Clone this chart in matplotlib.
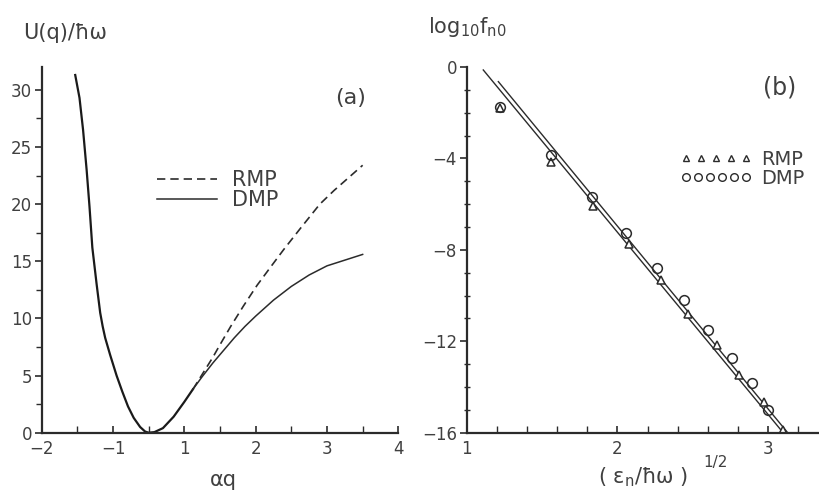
import matplotlib
matplotlib.use("Agg")
import matplotlib.pyplot as plt
from matplotlib.lines import Line2D
from matplotlib.legend_handler import HandlerLine2D
import numpy as np

plt.rcParams['font.family'] = ['DejaVu Sans']
plt.rcParams['mathtext.default'] = 'regular'

INK = '#2b2b2b'
TXT = '#404040'

# (a) potential curves
left_q = [-1.03, -0.97, -0.92, -0.87, -0.83, -0.79, -0.73, -0.68, -0.645, -0.61, -0.54,
          -0.45, -0.37, -0.29, -0.21, -0.12, -0.05, 0.0, 0.08, 0.2, 0.35, 0.5, 0.62]
left_U = [31.3, 29.3, 26.5, 23.0, 19.8, 16.2, 13.0, 10.5, 9.3, 8.3, 6.8,
          5.0, 3.6, 2.3, 1.3, 0.5, 0.1, 0.0, 0.05, 0.4, 1.4, 2.7, 3.8]
dmp_q = [0.75, 0.9, 1.05, 1.2, 1.35, 1.5, 1.75, 2.0, 2.25, 2.5, 2.75, 3.0]
dmp_U = [4.9, 6.1, 7.2, 8.3, 9.3, 10.2, 11.6, 12.8, 13.8, 14.6, 15.1, 15.6]
rmp_q = [0.75, 0.9, 1.0, 1.15, 1.33, 1.52, 1.71, 1.89, 2.13, 2.4, 2.6, 2.8, 3.0]
rmp_U = [5.1, 6.6, 7.7, 9.3, 11.1, 12.9, 14.5, 16.0, 17.9, 20.0, 21.2, 22.3, 23.4]

# tick labels of panel (a) as printed
a_tick_pos = [-1.5, -0.5, 0.5, 1.5, 2.5, 3.5]
a_tick_lab = ['\u22122', '\u22121', '1', '2', '3', '4']

# (b) log10 f_n0 vs sqrt(eps_n / hbar w)
dmp_x = [1.22, 1.56, 1.83, 2.06, 2.26, 2.44, 2.60, 2.76, 2.89, 3.00]
dmp_y = [-1.74, -3.85, -5.67, -7.28, -8.81, -10.19, -11.5, -12.74, -13.84, -15.0]
rmp_x = [1.22, 1.56, 1.84, 2.08, 2.29, 2.47, 2.66, 2.81, 2.97, 3.10]
rmp_y = [-1.80, -4.17, -6.07, -7.76, -9.32, -10.82, -12.16, -13.47, -14.65, -15.9]
fitA_x = [1.11, 3.10]
fitA_y = [-0.13, -16.0]
fitB_x = [1.21, 3.13]
fitB_y = [-0.64, -16.0]

W, H = 819, 495
fig = plt.figure(figsize=(W / 100, H / 100), dpi=100)

def box(x0, y0, x1, y1):
    return [x0 / W, 1 - y1 / H, (x1 - x0) / W, (y1 - y0) / H]

def style(ax):
    for s in ['top', 'right']:
        ax.spines[s].set_visible(False)
    for s in ['left', 'bottom']:
        ax.spines[s].set_color(INK)
        ax.spines[s].set_linewidth(1.6)
    ax.tick_params(colors=INK, labelcolor=TXT, labelsize=12, width=1.2)
    ax.tick_params(which='minor', colors=INK, width=1.0)

# ---- panel (a)
ax1 = fig.add_axes(box(41.7, 67, 398.3, 432.7))
style(ax1)
ax1.plot(left_q, left_U, color='#1a1a1a', lw=1.6)
ax1.plot([left_q[-1]] + dmp_q, [left_U[-1]] + dmp_U, color=INK, lw=1.1)
ax1.plot([left_q[-1]] + rmp_q, [left_U[-1]] + rmp_U, color=INK, lw=1.2, ls=(0, (5, 3)))
ax1.set_xlim(-1.5, 3.5)
ax1.set_ylim(0, 32)
ax1.set_xticks(a_tick_pos)
ax1.set_xticklabels(a_tick_lab)
ax1.set_xticks([-1, 0, 1, 2, 3], minor=True)
ax1.set_yticks([0, 5, 10, 15, 20, 25, 30])
ax1.set_yticks(np.arange(2.5, 32, 5), minor=True)
ax1.tick_params(axis='x', which='both', direction='in', length=5, pad=5)
ax1.tick_params(axis='y', which='major', direction='out', length=5, pad=2)
ax1.tick_params(axis='y', which='minor', direction='out', length=4)

hl = [Line2D([], [], color=INK, lw=1.2, ls=(0, (5, 3))),
      Line2D([], [], color=INK, lw=1.1)]
ax1.legend(hl, ['RMP', 'DMP'], loc='center left', frameon=False,
           bbox_to_anchor=(157 / W, 1 - 190 / H), bbox_transform=fig.transFigure,
           borderpad=0, borderaxespad=0, handlelength=2.9, handletextpad=0.7,
           labelspacing=0.0, prop={'size': 15}, labelcolor=TXT)
fig.text(351 / W, 1 - 98 / H, '(a)', fontsize=16, color=TXT, ha='center', va='center')
fig.text(23 / W, 1 - 33 / H, 'U(q)/\u0127\u03c9', fontsize=15, color=TXT,
         ha='left', va='center')
fig.text(223 / W, 1 - 480 / H, '\u03b1q', fontsize=15, color=TXT,
         ha='center', va='center')

# ---- panel (b)
ax2 = fig.add_axes(box(466.7, 67, 819, 432.7))
style(ax2)
ax2.plot(fitA_x, fitA_y, color=INK, lw=1.0)
ax2.plot(fitB_x, fitB_y, color=INK, lw=1.0)
ax2.plot(rmp_x, rmp_y, ls='none', marker='^', ms=6, mfc='white', mec=INK, mew=1.1)
ax2.plot(dmp_x, dmp_y, ls='none', marker='o', ms=7, mfc='none', mec=INK, mew=1.1)
ax2.set_xlim(1, 1 + (819 - 466.7) / 150.7)
ax2.set_ylim(-16, 0)
ax2.set_xticks([1, 2, 3])
ax2.set_xticks(np.arange(1.2, 3.35, 0.2), minor=True)
ax2.set_yticks([0, -4, -8, -12, -16])
ax2.set_yticklabels(['0', '\u22124', '\u22128', '\u221212', '\u221216'])
ax2.set_yticks(np.arange(-15, 0, 1), minor=True)
ax2.tick_params(axis='x', which='both', direction='in', length=5, pad=5)
ax2.tick_params(axis='y', which='major', direction='out', length=5, pad=2)
ax2.tick_params(axis='y', which='minor', direction='inout', length=5)

hb = [Line2D([], [], ls='none', marker='^', ms=4.5, mfc='white', mec=INK, mew=1.0),
      Line2D([], [], ls='none', marker='o', ms=5.5, mfc='none', mec=INK, mew=1.0)]
ax2.legend(hb, ['RMP', 'DMP'], loc='center left', frameon=False,
           bbox_to_anchor=(680 / W, 1 - 169 / H), bbox_transform=fig.transFigure,
           borderpad=0, borderaxespad=0, handlelength=3.7, handletextpad=0.45,
           labelspacing=0.0, numpoints=5, prop={'size': 14}, labelcolor=TXT,
           handler_map={hb[1]: HandlerLine2D(numpoints=6)})
fig.text(780 / W, 1 - 88 / H, '(b)', fontsize=17, color=TXT, ha='center', va='center')
fig.text(428 / W, 1 - 27 / H, r'$\mathregular{log_{10}f_{n0}}$', fontsize=15,
         color=TXT, ha='left', va='center')
fig.text(643 / W, 1 - 477 / H, '( $\\mathregular{\\varepsilon_n}$/\u0127\u03c9 )',
         fontsize=15, color=TXT, ha='center', va='center')
fig.text(703 / W, 1 - 463 / H, '1/2', fontsize=11, color=TXT, ha='left', va='center')

fig.savefig('out.png', dpi=100, facecolor='white')
